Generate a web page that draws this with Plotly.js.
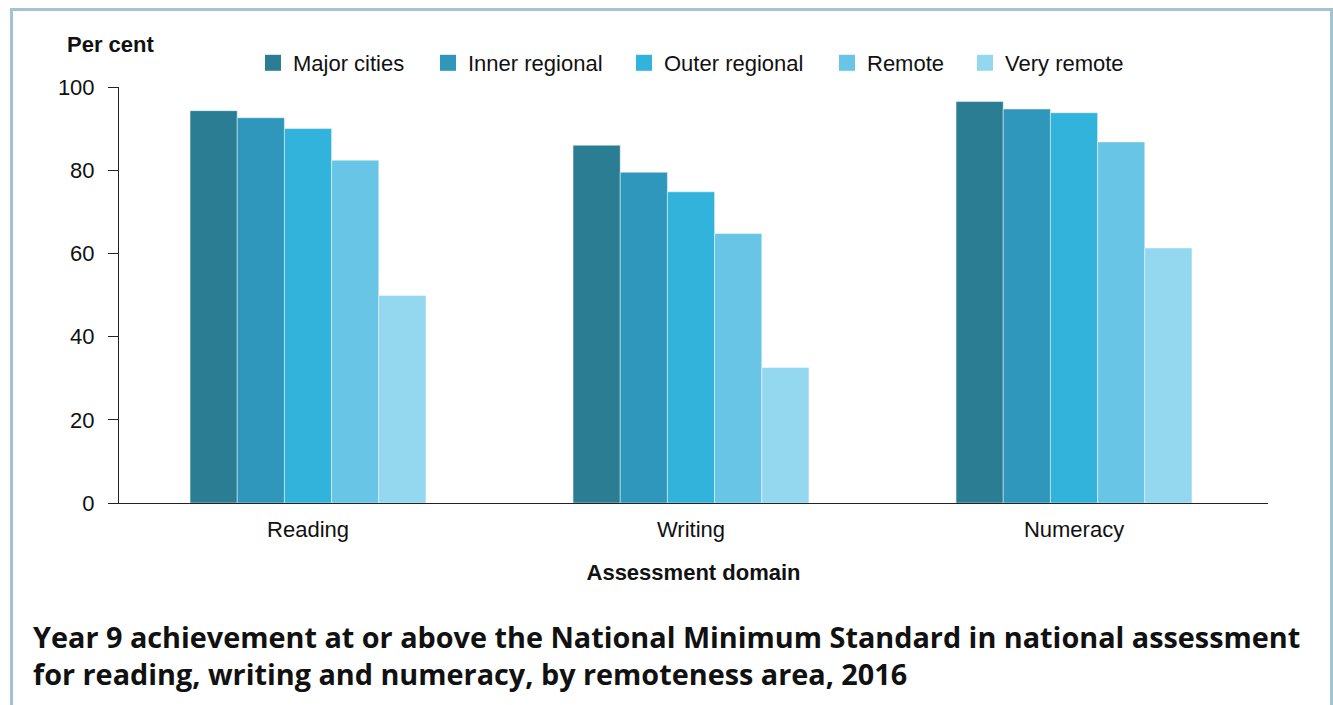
<!DOCTYPE html>
<html>
<head>
<meta charset="utf-8">
<script src="https://cdn.plot.ly/plotly-3.0.1.min.js"></script>
<style>
  html, body { margin: 0; padding: 0; background: #fff; }
  #chart { position: absolute; left: 0; top: 0; width: 1333px; height: 705px; }
  #frame { position: absolute; left: 10px; top: 8px; width: 1317px; height: 720px;
           border: 3px solid #a2c4d2; pointer-events: none; }
</style>
</head>
<body>
<div id="chart"></div>
<div id="frame"></div>
<script>
const categories = ["Reading", "Writing", "Numeracy"];
const seriesNames = ["Major cities", "Inner regional", "Outer regional", "Remote", "Very remote"];
const majorCities   = [94.3, 86.0, 96.5];
const innerRegional = [92.6, 79.5, 94.7];
const outerRegional = [90.0, 74.8, 93.8];
const remote        = [82.4, 64.8, 86.8];
const veryRemote    = [49.9, 32.6, 61.3];
const yTicks = [0, 20, 40, 60, 80, 100];

const seriesValues = [majorCities, innerRegional, outerRegional, remote, veryRemote];
const colors = ["#2b7d93", "#2e97bb", "#31b3dc", "#69c5e6", "#94d8f0"];
// left edge (px) of each legend swatch in the reference
const legendSwatchLeft = [265, 440, 636, 839, 977];

const FONT = "Liberation Sans, Arial, sans-serif";
const W = 1333, H = 705;
const M = { l: 119, r: 65, t: 87, b: 202 };
const plotW = W - M.l - M.r, plotH = H - M.t - M.b;

const traces = [];
seriesValues.forEach((vals, i) => {
  traces.push({
    type: "bar",
    x: categories,
    y: vals,
    name: seriesNames[i],
    showlegend: false,
    marker: { color: colors[i], line: { color: "rgba(255,255,255,0.45)", width: 1 } },
    hoverinfo: "x+y+name"
  });
});
// legend proxies (larger swatches), one legend per item
seriesNames.forEach((n, i) => {
  traces.push({
    type: "scatter",
    mode: "markers",
    x: [null], y: [null],
    name: n,
    legend: i === 0 ? "legend" : "legend" + (i + 1),
    marker: { symbol: "square", size: 17, color: colors[i] },
    hoverinfo: "skip"
  });
});

const layout = {
  width: W, height: H,
  margin: M,
  paper_bgcolor: "#fff", plot_bgcolor: "#fff",
  font: { family: FONT, size: 22, color: "#111" },
  barmode: "group",
  bargap: 0.384,
  bargroupgap: 0,
  showlegend: true,
  title: {
    text: "<b>Year 9 achievement at or above the National Minimum Standard in national assessment<br>for reading, writing and numeracy, by remoteness area, 2016</b>",
    font: { family: "Open Sans, sans-serif", size: 28.8, color: "#111" },
    xref: "container", yref: "container",
    x: 33 / W, xanchor: "left",
    y: 1 - 648 / H, yanchor: "top"
  },
  xaxis: {
    type: "category",
    range: [-0.4935, 2.5065],
    showline: true, linecolor: "#222", linewidth: 1,
    ticks: "", showgrid: false, zeroline: false,
    tickfont: { family: FONT, size: 22, color: "#111" },
    ticklabelstandoff: 7,
    title: { text: "<b>Assessment domain</b>", font: { family: FONT, size: 22, color: "#111" }, standoff: 23 },
    fixedrange: true
  },
  yaxis: {
    range: [0, 100],
    tickvals: yTicks,
    ticktext: yTicks.map(String),
    showline: true, linecolor: "#222", linewidth: 1,
    ticks: "outside", ticklen: 10, tickcolor: "#222", tickwidth: 1,
    showgrid: false, zeroline: false,
    tickfont: { family: FONT, size: 22, color: "#111" },
    ticklabelstandoff: 9,
    fixedrange: true
  },
  annotations: [{
    text: "<b>Per cent</b>",
    xref: "paper", yref: "paper",
    x: (65 - M.l) / plotW, y: 1 + (M.t - 45) / plotH, xanchor: "left", yanchor: "middle",
    showarrow: false,
    font: { family: FONT, size: 22, color: "#111" }
  }],
  shapes: [{
    type: "line", xref: "paper", yref: "y",
    x0: 0, x1: 0, y0: 0, y1: -2.2,
    line: { color: "#222", width: 1 }
  }]
};

legendSwatchLeft.forEach((px, i) => {
  const key = i === 0 ? "legend" : "legend" + (i + 1);
  layout[key] = {
    orientation: "h",
    x: (px - 12 - M.l) / plotW, xanchor: "left",
    y: 1 + (M.t - 63) / plotH, yanchor: "middle",
    font: { family: FONT, size: 22, color: "#111" },
    itemsizing: "trace",
    bgcolor: "rgba(0,0,0,0)"
  };
});

Plotly.newPlot("chart", traces, layout, { displayModeBar: false });
</script>
</body>
</html>
